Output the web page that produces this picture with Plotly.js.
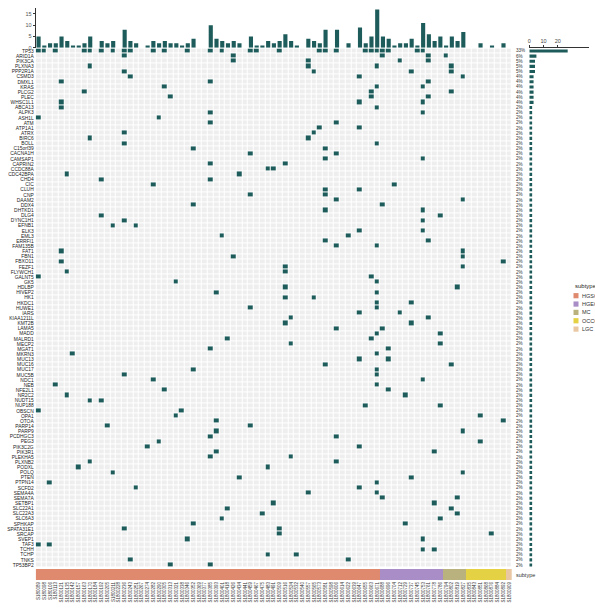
<!DOCTYPE html>
<html><head><meta charset="utf-8">
<script src="https://cdn.plot.ly/plotly-3.0.1.min.js"></script>
<style>html,body{margin:0;padding:0;background:#fff;}#chart{width:595px;height:609px;}</style>
</head><body><div id="chart"></div>
<script>
const genes = ["TP53","ARID1A","PIK3CA","PLXNA3","PPP2R1A","CSMD3","DMXL1","KRAS","PLCG2","PLEC","WHSC1L1","ABCA13","ALPK3","ASH1L","ATM","ATP1A1","ATRX","BIRC6","BOLL","C15orf39","CACNA1H","CAMSAP1","CAPRIN2","CCDC88A","CDC42BPA","CHD4","CIC","CLUH","CNP","DAAM2","DDX4","DHTKD1","DLG4","DYNC1H1","EFNB1","ELK3","EML3","ERRFI1","FAM135B","FAT1","FBN1","FBXO11","FEZF1","FLYWCH1","GALNT5","GK5","HDLBP","HIVEP2","HK1","HKDC1","HUWE1","IARS","KIAA1211L","KMT2B","LAMA5","MADD","MALRD1","MECP2","MGAT1","MKRN3","MUC13","MUC16","MUC17","MUC5B","NDC1","NEB","NFE2L1","NR2C2","NUDT15","NUP188","OBSCN","OPA1","OTOA","PARP14","PARP9","PCDHGC3","PEG3","PIK3C2G","PIK3R1","PLEKHA5","PLXNB2","PODXL","POLQ","PTEN","PTPN14","SCFD2","SEMA4A","SEMA7A","SETBP1","SLC22A1","SLC22A3","SLC6A3","SPHKAP","SPATA31E1","SRCAP","SVEP1","TAF3","TCHH","TCHP","TNKS","TP53BP2"];
const geneCounts = [27,5,4,4,4,3,3,3,3,3,3,2,2,2,2,2,2,2,2,2,2,2,2,2,2,2,2,2,2,2,2,2,2,2,2,2,2,2,2,2,2,2,2,2,2,2,2,2,2,2,2,2,2,2,2,2,2,2,2,2,2,2,2,2,2,2,2,2,2,2,2,2,2,2,2,2,2,2,2,2,2,2,2,2,2,2,2,2,2,2,2,2,2,2,2,2,2,2,2,2,2];
const pctLabels = ["33%","6%","5%","5%","5%","4%","4%","4%","4%","4%","4%","2%","2%","2%","2%","2%","2%","2%","2%","2%","2%","2%","2%","2%","2%","2%","2%","2%","2%","2%","2%","2%","2%","2%","2%","2%","2%","2%","2%","2%","2%","2%","2%","2%","2%","2%","2%","2%","2%","2%","2%","2%","2%","2%","2%","2%","2%","2%","2%","2%","2%","2%","2%","2%","2%","2%","2%","2%","2%","2%","2%","2%","2%","2%","2%","2%","2%","2%","2%","2%","2%","2%","2%","2%","2%","2%","2%","2%","2%","2%","2%","2%","2%","2%","2%","2%","2%","2%","2%","2%","2%"];
const samples = ["S180089","S180098","S180106","S180113","S1800121","S1800135","S1800142","S1800157","S1800163","S1800170","S1800184","S1800192","S1800205","S1800211","S1800228","S1800236","S1800243","S1800251","S1800267","S1800274","S1800282","S1800290","S1800305","S1800313","S1800321","S1800338","S1800346","S1800352","S1800369","S1800377","S1800385","S1800393","S1800401","S1800418","S1800426","S1800434","S1800441","S1800459","S1800467","S1800475","S1800483","S1800491","S1800509","S1800516","S1800524","S1800532","S1800540","S1800557","S1800565","S1800573","S1800581","S1800598","S1800606","S1800614","S1800622","S1800639","S1800647","S1800655","S1800663","S1800671","S1800688","S1800696","S1800704","S1800712","S1800729","S1800737","S1800745","S1800753","S1800761","S1800778","S1800786","S1800794","S1800802","S1800819","S1800827","S1800835","S1800843","S1800851","S1800868","S1800876","S1800884","S1800892","S1800909"];
const sampleTMB = [5,1,2,2,5,3,1,1,2,5,0,3,2,3,0,8,3,2,0,1,3,2,3,2,2,1,2,4,0,0,10,4,3,2,3,2,0,5,1,1,3,2,3,6,3,1,0,4,3,2,8,0,8,0,2,0,9,2,5,17,5,4,1,2,2,4,1,11,6,3,5,1,5,3,7,0,0,2,0,1,0,2,0];
const subtypes = ["HGSC","HGEC","MC","OCCC","LGC"];
const subtypeColors = ["#DF8A6F","#A98DC6","#B9B27F","#E4D144","#E8C7A2"];
const subtypeSizes = [60,11,4,7,1];
// mutated sample indices for each gene (same order as genes)
const geneMutSamples = [
 [0,1,3,8,9,11,13,15,16,20,22,26,30,32,37,38,42,49,50,52,57,58,59,60,61,66,67],
 [15,34,60,68,71],[34,47,63,68],[9,47,59,72],[15,48,65,72],[16,56,74],[4,30,68],[22,59,67],[8,58,72],[23,58,68],[4,56,67],[4,59],
 [30,67],[0,21],[30,52],[49,56],[15,48],[9,47],[15,59],[27,50],[37,52],[50,67],[30,43],[40,41],[5,35],[11,30],[20,62],[50,56],[37,50],[52,74],
 [27,60],[50,67],[11,70],[15,67],[13,17],[56,67],[32,54],[50,68],[52,59],[4,74],[34,74],[4,81],[43,74],[5,43],[0,58],[24,59],[43,73],[31,59],
 [43,48],[59,65],[37,59],[56,63],[44,68],[43,65],[52,60],[59,70],[33,58],[44,70],[30,61],[6,59],[56,61],[50,72],[27,59],[15,59],[20,67],[3,59],
 [22,61],[5,64],[9,11],[57,70],[0,25],[24,77],[31,81],[12,37],[31,74],[30,52],[21,77],[19,56],[31,69],[30,44],[9,52],[7,40],[13,74],[35,65],
 [2,59],[17,56],[47,59],[60,73],[41,69],[33,72],[39,73],[32,70],[27,64],[15,42],[42,79],[26,67],[0,2],[67,69],[40,45],[16,54],[23,30]
];

const W = 595, H = 609;
const px = v => v / W, py = v => 1 - v / H;
const nS = samples.length, nG = genes.length;
const teal = "#1E5C5B";
const sIdx = samples.map((s,i)=>i), gIdx = genes.map((g,i)=>i);
const z = genes.map((g,gi)=> samples.map((s,si)=> geneMutSamples[gi].indexOf(si) >= 0 ? 1 : 0));
const subtypeZ = [];
subtypeSizes.forEach((n,k)=>{ for(let j=0;j<n;j++) subtypeZ.push(k); });
const stScale = [];
subtypeColors.forEach((c,k)=>{ stScale.push([k/5,c]); stScale.push([(k+1)/5,c]); });

const font = "Liberation Sans, Arial, sans-serif";
const traces = [
 {type:"heatmap", x:sIdx, y:gIdx, z:z, xaxis:"x", yaxis:"y", zmin:0, zmax:1,
  colorscale:[[0,"#EEEEEE"],[0.5,"#EEEEEE"],[0.5,teal],[1,teal]], showscale:false, xgap:1, ygap:1, hoverinfo:"skip"},
 {type:"bar", x:sIdx, y:sampleTMB, xaxis:"x2", yaxis:"y2", marker:{color:teal}, width:0.72, hoverinfo:"skip"},
 {type:"heatmap", x:sIdx, y:[0], z:[subtypeZ], xaxis:"x3", yaxis:"y3", zmin:0, zmax:5, colorscale:stScale, showscale:false, hoverinfo:"skip"},
 {type:"bar", orientation:"h", x:geneCounts, y:gIdx, xaxis:"x4", yaxis:"y", marker:{color:teal}, width:0.6, hoverinfo:"skip"}
];
const xr = [-0.5, nS-0.5];
const xd = [px(35.7), px(512.1)];
const annotations = [];
gIdx.forEach(i=>annotations.push({xref:"paper", yref:"y", x:px(513.5), y:i, text:pctLabels[i], showarrow:false, xanchor:"left", yanchor:"middle", font:{size:4.6, color:"#333", family:font}}));
annotations.push({xref:"paper", yref:"paper", x:px(514), y:py(574.5), text:"subtype", showarrow:false, xanchor:"left", yanchor:"middle", font:{size:5.5, color:"#333", family:font}});
annotations.push({xref:"paper", yref:"paper", x:px(572.5), y:py(286), text:"subtype", showarrow:false, xanchor:"left", yanchor:"middle", font:{size:6, color:"#222", family:font}});
const shapes = [];
subtypes.forEach((s,k)=>{
  const yc = 295.7 + k*8.35;
  shapes.push({type:"rect", xref:"paper", yref:"paper", x0:px(573.5), x1:px(578.5), y0:py(yc-2.6), y1:py(yc+2.6), fillcolor:subtypeColors[k], line:{width:0}});
  annotations.push({xref:"paper", yref:"paper", x:px(580), y:py(yc), text:s, showarrow:false, xanchor:"left", yanchor:"middle", font:{size:5.5, color:"#333", family:font}});
});
const layout = {
  width:W, height:H, margin:{l:0,r:0,t:0,b:0}, paper_bgcolor:"#fff", plot_bgcolor:"#fff", showlegend:false,
  font:{family:font, size:5, color:"#333"},
  xaxis:{domain:xd, range:xr, anchor:"y", showticklabels:false, showgrid:false, zeroline:false, ticks:""},
  yaxis:{domain:[py(567.6), py(48.4)], range:[nG-0.5,-0.5], anchor:"x", tickvals:gIdx, ticktext:genes, tickfont:{size:4.9, color:"#222"}, showgrid:false, zeroline:false, ticks:"", ticklabelstandoff:1},
  xaxis2:{domain:xd, range:xr, anchor:"y2", showticklabels:false, showgrid:false, zeroline:false, ticks:""},
  yaxis2:{domain:[py(47.7), py(8)], range:[0,17.64], anchor:"x2", tickvals:[0,5,10,15], tickfont:{size:5.5, color:"#555"}, ticks:"outside", ticklen:2, tickcolor:"#333", showline:true, linecolor:"#333", linewidth:1, showgrid:false, zeroline:false},
  xaxis3:{domain:xd, range:xr, anchor:"y3", tickvals:sIdx, ticktext:samples, tickangle:-90, tickfont:{size:4.5, color:"#333"}, showgrid:false, zeroline:false, ticks:""},
  yaxis3:{domain:[py(580), py(569)], range:[-0.5,0.5], anchor:"x3", showticklabels:false, showgrid:false, zeroline:false, ticks:""},
  xaxis4:{domain:[px(529.3), px(589)], range:[0,42], anchor:"y", side:"top", tickvals:[0,10,20], tickfont:{size:5.5, color:"#444"}, ticks:"outside", ticklen:2, tickcolor:"#333", showline:true, linecolor:"#333", linewidth:1, showgrid:false, zeroline:false},
  annotations:annotations, shapes:shapes
};
Plotly.newPlot("chart", traces, layout, {displayModeBar:false, staticPlot:true});
</script></body></html>
